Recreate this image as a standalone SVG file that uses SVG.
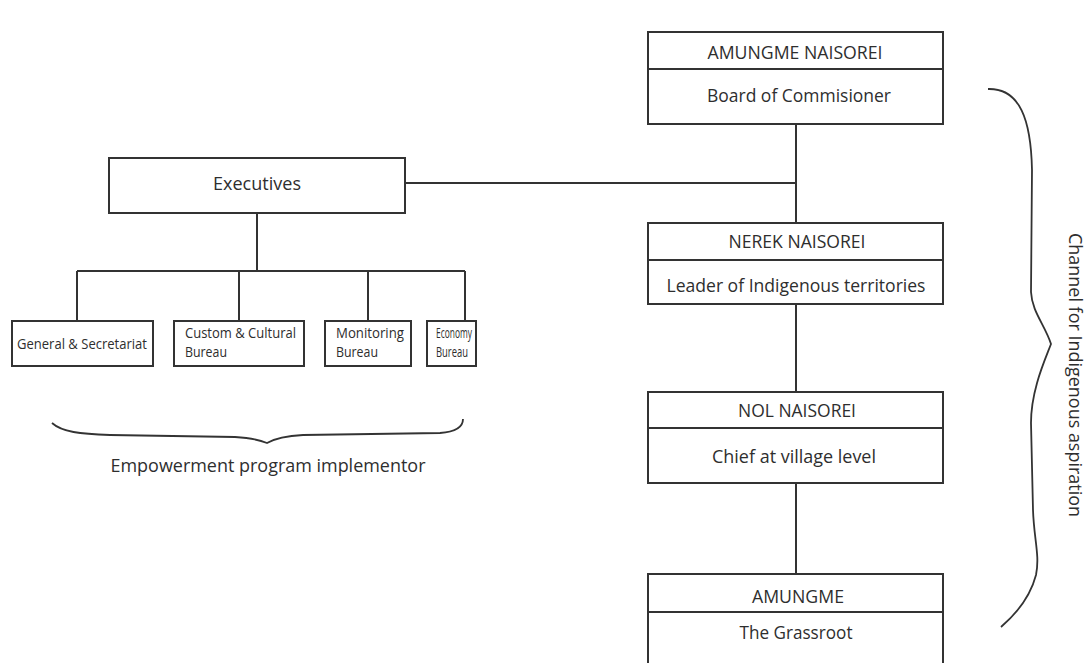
<svg xmlns="http://www.w3.org/2000/svg" width="1091" height="663" viewBox="0 0 1091 663">
<style>
.box{fill:#fff;stroke:#333;stroke-width:2}
.ln{fill:none;stroke:#333;stroke-width:2}
.br{fill:none;stroke:#333;stroke-width:1.8}
text{font-family:"Open Sans","Noto Sans",sans-serif;fill:#2e2e2e}
.t{font-size:18.5px;text-anchor:middle}
.s{font-size:14px}
</style>
<rect width="1091" height="663" fill="#fff"/>
<g id="connectors">
<path class="ln" d="M796 124V223M405 183H796M257 213V271M77 271H465M77 271V321M239 271V321M368 271V321M465 271V321M796 304V392M796 483V574"/>
</g>
<g id="amungme-naisorei">
<rect class="box" x="648" y="32" width="295" height="92"/>
<line class="ln" x1="648" y1="69" x2="943" y2="69"/>
<text class="t" x="795" y="59" textLength="175" lengthAdjust="spacingAndGlyphs">AMUNGME NAISOREI</text>
<text class="t" x="799" y="102" textLength="184" lengthAdjust="spacingAndGlyphs">Board of Commisioner</text>
</g>
<g id="executives">
<rect class="box" x="109" y="158" width="296" height="55"/>
<text class="t" x="257" y="190" textLength="88" lengthAdjust="spacingAndGlyphs">Executives</text>
</g>
<g id="general">
<rect class="box" x="12" y="321" width="141" height="45"/>
<text class="s" x="17" y="349" textLength="130" lengthAdjust="spacingAndGlyphs">General &amp; Secretariat</text>
</g>
<g id="custom">
<rect class="box" x="174" y="321" width="130" height="45"/>
<text class="s" x="185" y="338" textLength="111" lengthAdjust="spacingAndGlyphs">Custom &amp; Cultural</text>
<text class="s" x="185" y="357" textLength="42" lengthAdjust="spacingAndGlyphs">Bureau</text>
</g>
<g id="monitoring">
<rect class="box" x="325" y="321" width="86" height="45"/>
<text class="s" x="336" y="338" textLength="68" lengthAdjust="spacingAndGlyphs">Monitoring</text>
<text class="s" x="336" y="357" textLength="42" lengthAdjust="spacingAndGlyphs">Bureau</text>
</g>
<g id="economy">
<rect class="box" x="427" y="321" width="49" height="45"/>
<text class="s" x="436" y="338" textLength="36" lengthAdjust="spacingAndGlyphs">Economy</text>
<text class="s" x="436" y="357" textLength="32" lengthAdjust="spacingAndGlyphs">Bureau</text>
</g>
<g id="nerek-naisorei">
<rect class="box" x="648" y="223" width="295" height="81"/>
<line class="ln" x1="648" y1="260" x2="943" y2="260"/>
<text class="t" x="797" y="248" textLength="137" lengthAdjust="spacingAndGlyphs">NEREK NAISOREI</text>
<text class="t" x="796" y="292" textLength="259" lengthAdjust="spacingAndGlyphs">Leader of Indigenous territories</text>
</g>
<g id="nol-naisorei">
<rect class="box" x="648" y="392" width="295" height="91"/>
<line class="ln" x1="648" y1="428" x2="943" y2="428"/>
<text class="t" x="797" y="417" textLength="118" lengthAdjust="spacingAndGlyphs">NOL NAISOREI</text>
<text class="t" x="794" y="463" textLength="164" lengthAdjust="spacingAndGlyphs">Chief at village level</text>
</g>
<g id="amungme">
<path class="box" d="M648 670V574H943V670"/>
<line class="ln" x1="648" y1="612" x2="943" y2="612"/>
<text class="t" x="798" y="603" textLength="92" lengthAdjust="spacingAndGlyphs">AMUNGME</text>
<text class="t" x="796" y="639" textLength="113" lengthAdjust="spacingAndGlyphs">The Grassroot</text>
</g>
<g id="brace-right">
<path class="br" d="M988 89C1020 88 1031 120 1032 170L1031 292C1032 312 1045 325 1051 344C1045 360 1031 390 1031 423L1033 510C1034 540 1040 555 1036 575C1030 598 1015 615 1001 627"/>
<text font-size="18" text-anchor="middle" transform="translate(1069 375) rotate(90)" textLength="284" lengthAdjust="spacingAndGlyphs">Channel for Indigenous aspiration</text>
</g>
<g id="brace-bottom">
<path class="br" d="M52 423C62 432 80 434 110 435L235 437C252 438 260 440 267 443C274 439 284 436 303 435L440 433C455 432 463 428 463 419"/>
<text class="t" x="268" y="472" textLength="315" lengthAdjust="spacingAndGlyphs">Empowerment program implementor</text>
</g>
</svg>
